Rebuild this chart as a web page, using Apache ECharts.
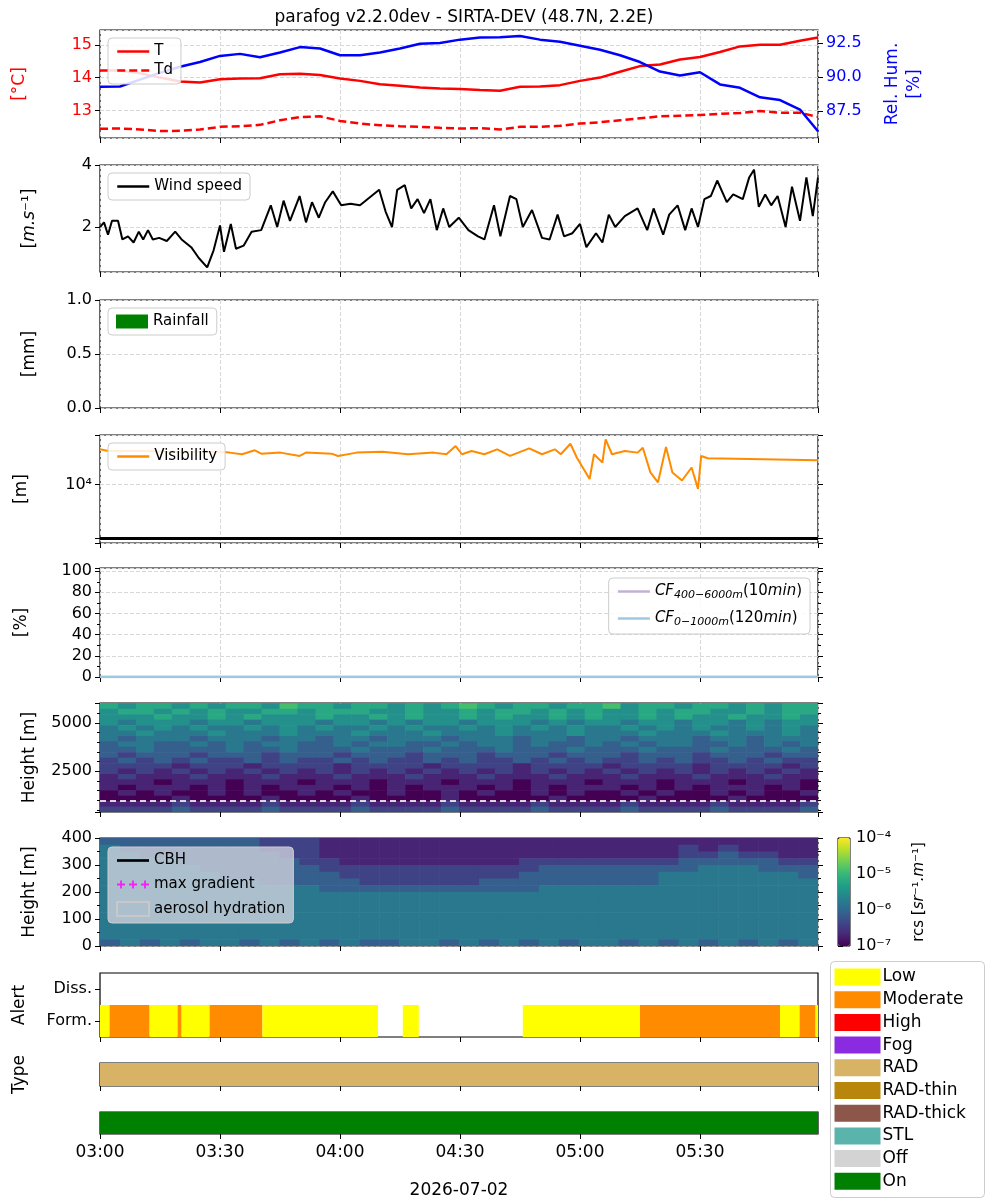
<!DOCTYPE html>
<html>
<head>
<meta charset="utf-8">
<script src="https://cdn.jsdelivr.net/npm/echarts@6/dist/echarts.min.js"></script>
<style>
  html, body { margin: 0; padding: 0; background: #fff; }
  #chart { width: 1000px; height: 1200px; }
</style>
</head>
<body>
<div id="chart"></div>
<script>
// ---- data (minutes after 03:00) ----
var tMin = [0,5,10,15,20,25,30,35,40,45,50,55,60,65,70,75,80,85,90,95,100,105,110,115,120,125,130,135,140,145,150,155,160,165,170,175,179.5];
var temp = [14.22,14.22,14.13,14.0,13.88,13.85,13.95,13.97,13.98,14.1,14.12,14.08,13.97,13.9,13.8,13.75,13.7,13.67,13.65,13.62,13.6,13.72,13.73,13.77,13.9,14.0,14.18,14.35,14.4,14.55,14.63,14.78,14.95,15.0,15.0,15.12,15.22];
var dewp = [12.44,12.45,12.42,12.37,12.38,12.42,12.5,12.52,12.56,12.7,12.8,12.82,12.68,12.6,12.55,12.52,12.5,12.47,12.45,12.46,12.42,12.5,12.5,12.53,12.6,12.64,12.7,12.76,12.82,12.84,12.86,12.9,12.92,12.98,12.93,12.93,12.8];
var relHum = [89.28,89.3,89.8,90.3,90.75,91.1,91.55,91.7,91.45,91.8,92.2,92.1,91.6,91.6,91.8,92.1,92.45,92.5,92.75,92.9,92.92,93.02,92.75,92.6,92.3,92.0,91.6,91.1,90.4,90.1,90.35,89.45,89.2,88.5,88.3,87.6,86.0];

var windMin = [0,1,2,3,4.5,5.6,7,8.4,9.7,10.8,12,13.2,14.8,16.7,18.8,20.4,22.8,24.7,26.8,28.4,30,31,32.7,34,35.9,37.9,40.3,42.7,44.3,45.9,47.5,49.9,51.5,53,54.7,56.3,58.2,60.3,62.6,65,67.4,69.8,71.4,73,74.3,76.2,77.8,79.4,81,82.6,84.2,85.8,87.3,89.7,92.1,94.5,96.1,98.5,100.1,102.5,104.1,105.7,108,110.5,112.4,114.4,116,118.1,120,121.6,124,125.6,127.2,128.8,131.2,134.4,136.8,138.4,140.8,142.3,144.4,146.3,147.9,149.5,151.1,152.7,154.3,156.7,158.3,160.7,162.3,163.5,164.7,166.3,167.8,169.4,171.4,173,175,176.6,178.2,179.5];
var wind = [2.0,2.15,1.75,2.2,2.2,1.6,1.7,1.5,1.85,1.6,1.9,1.6,1.65,1.55,1.85,1.6,1.35,1.0,0.7,1.25,2.05,1.2,2.1,1.3,1.4,1.85,1.9,2.7,2.0,2.85,2.2,3.0,2.15,2.8,2.3,2.8,3.15,2.7,2.75,2.7,2.95,3.2,2.5,2.0,3.2,3.35,2.6,2.9,2.45,2.9,1.9,2.6,2.0,2.3,1.9,1.7,1.6,2.7,1.7,3.0,2.9,2.0,2.55,1.65,1.6,2.4,1.7,1.8,2.1,1.35,1.8,1.5,2.4,2.0,2.35,2.6,1.9,2.6,1.75,2.4,2.7,1.9,2.6,2.0,2.9,3.0,3.5,2.8,3.05,2.9,3.6,3.85,2.65,3.05,2.7,3.0,2.0,3.3,2.2,3.6,2.35,3.6];

var visMin = [0,2.1,6.9,11.6,16.4,22.8,29.2,32.4,35.5,38.7,40.3,45.1,49.9,51.5,57.9,59.5,64.2,70.6,77,83.4,86.6,88.9,90.5,92.9,96.1,99.3,102.5,107.3,110.5,113.7,115.2,117.6,119.2,122.4,123.5,125.6,126.4,128,131.2,134.4,135.7,137.6,139.5,141.5,143.1,145.5,147.9,149.5,150.3,151.9,179.5];
var vis = [45800,42600,42600,42600,41400,41400,41400,39700,37000,43900,38000,39700,34400,39700,38000,34400,39700,41400,37000,39700,37000,52800,37000,42600,37000,45800,34400,47800,37000,45800,37000,58200,32100,12700,37000,25900,70200,37000,42600,39700,49100,16900,11000,50500,16900,11900,20900,8300,34400,31200,28600];
var visThreshold = 1000;

var cfMin = [0, 30, 60, 90, 120, 150, 179.5];
var cfHigh = [0, 0, 0, 0, 0, 0, 0];
var cfLow = [0, 0, 0, 0, 0, 0, 0];

// backscatter grids: digit d -> log10(rcs) = -7 + 0.3*d; rows listed top to bottom
var rcsHighRows = [
  "6566565665766566565676566566756656656566",
  "5665656556656665565565665656556566556566",
  "5556556565556556565565655656556565565565",
  "5455545545554554545545554545545545545455",
  "4545454454545445454454545454454545445454",
  "4454445444544454445444544454445444544454",
  "4344434443443443444344434434434443443444",
  "3443343434433434433434434334343443343434",
  "3343333433433343334333433343334333433343",
  "3233323332333233323332333233323332333233",
  "2323232232322323223232232323223232232322",
  "2222122212222122221222212222122221222212",
  "2121212121212121212121212121212121212121",
  "1211121112111211121112111211121112111211",
  "1110111011101110111011101110111011101110",
  "1011101010111010101110101011101010111010",
  "0101001010010100100101001010010100101001",
  "0000100001000010000100000100001000010000",
  "1111211112111121111211112111121111211112",
  "2222322223222232222322223222232222322223"
];
var rcsLowRows = [
  "333333332221111111111111111111111111",
  "433333332221111111111111111112121111",
  "443333333221111111111111111112232211",
  "444433333322111111111222222223333322",
  "444443333332222222222233333333444333",
  "444444333333222222222333333344444443",
  "444444443333322222233333333344444444",
  "444444444443333333333344444444444444",
  "444444444444444444444444444444444444",
  "444444444444444444444444444444444444",
  "444444444444444444444444444444444444",
  "444444444444444444444444444444444444",
  "444444444444444444444444444444444444",
  "444444444444444444444444444444444444",
  "444444444444444444444444444444444444",
  "343434434343433443434343443434343434"
];

// alert periods: [start, end, level]
var alertLevels = ["Low", "Moderate", "High"];
var alertPeriods = [[0,2.4,0],[2.4,12.4,1],[12.4,19.4,0],[19.4,20.4,1],[20.4,27.4,0],[27.4,40.6,1],[40.6,69.5,0],[75.7,79.7,0],[105.7,135,0],[135,170,1],[170,174.9,0],[174.9,178.9,1],[178.9,179.5,0]];
var typePeriods = [[0,179.5,"RAD"]];
var statusPeriods = [[0,179.5,"On"]];

var legendNames = ["Low","Moderate","High","Fog","RAD","RAD-thin","RAD-thick","STL","Off","On"];
var legendColors = ["#ffff00","#ff8c00","#ff0000","#8a2be2","#d9b365","#b8860b","#8c564b","#5ab4ac","#d3d3d3","#008000"];

// ---- helpers ----
var font = "DejaVu Sans";
var viridis = ['#440154','#482878','#3e4989','#31688e','#26828e','#1f9e89','#35b779','#6ece58','#b5de2b','#fde725'];
function zip(x, y) { return x.map(function (v, i) { return [v, y[i]]; }); }
function fmtTime(m) {
  var h = 3 + Math.floor(m / 60), mm = Math.round(m % 60);
  return (h < 10 ? "0" : "") + h + ":" + (mm < 10 ? "0" : "") + mm;
}
function sup(v) {
  var map = {"-": "⁻", "0": "⁰", "1": "¹", "2": "²", "3": "³", "4": "⁴", "5": "⁵", "6": "⁶", "7": "⁷", "8": "⁸", "9": "⁹"};
  return String(v).split("").map(function (c) { return map[c] || c; }).join("");
}
function buildHeat(rows, hMin, hMax) {
  var out = [], n = rows.length, dh = (hMax - hMin) / n;
  rows.forEach(function (row, k) {
    var r = n - 1 - k, dx = 179.5 / row.length;
    for (var c = 0; c < row.length; c++) {
      out.push([c * dx, (c + 1) * dx, hMin + r * dh, hMin + (r + 1) * dh, -7 + 0.3 * Number(row[c])]);
    }
  });
  return out;
}
function heatItem(params, api) {
  var a = api.coord([api.value(0), api.value(3)]);
  var b = api.coord([api.value(1), api.value(2)]);
  return { type: "rect", shape: { x: a[0], y: a[1], width: b[0] - a[0] + 0.6, height: b[1] - a[1] + 0.6 },
    style: { fill: api.visual("color") } };
}
function bandItem(colorOf) {
  return function (params, api) {
    var a = api.coord([api.value(0), api.value(2)]);
    var b = api.coord([api.value(1), api.value(2)]);
    var h = api.size([0, 1])[1];
    return { type: "rect", shape: { x: a[0], y: a[1] - h / 2, width: b[0] - a[0], height: h },
      style: { fill: colorOf(api.value(3)) } };
  };
}
function colorByName(n) { return legendColors[legendNames.indexOf(n)]; }
function plain(v) { return String(v); }

var G = [[30,108],[165,107],[300,108],[435,108],[568,109],[703,109],[838,108],[973,64],[1063,23],[1112,22]];
var grids = G.map(function (g) {
  return { left: 100, width: 718, top: g[0], height: g[1], show: true, borderColor: "#000", borderWidth: 1.2, backgroundColor: "transparent" };
});
grids.push({ left: 838, width: 12, top: 838, height: 108, show: true, borderColor: "#000", borderWidth: 1 });

var labelStyle = { color: "#000", fontSize: 16, fontFamily: font };
var nameStyle = { color: "#000", fontSize: 17, fontFamily: font };
var grid = { lineStyle: { color: "#d8d8d8", type: "dashed" } };
var tick = { show: true, length: 5, lineStyle: { color: "#000" } };

var xAxes = G.map(function (g, i) {
  var last = i === G.length - 1;
  return {
    type: "value", gridIndex: i, min: 0, max: 179.5, interval: 30,
    axisLine: { show: false }, axisTick: tick,
    axisLabel: { show: last, showMaxLabel: false, formatter: fmtTime, margin: 10, color: "#000", fontSize: 17, fontFamily: font },
    splitLine: { show: i < 7, lineStyle: grid.lineStyle },
    name: last ? "2026-07-02" : "", nameLocation: "middle", nameGap: 48, nameTextStyle: nameStyle
  };
});
xAxes.push({ type: "value", gridIndex: 10, show: false, min: 0, max: 1 });

function yAx(o) {
  var a = {
    type: "value", axisLine: { show: false }, axisTick: tick, axisLabel: Object.assign({}, labelStyle),
    splitLine: { show: true, lineStyle: grid.lineStyle }, nameLocation: "middle", nameRotate: 90,
    nameTextStyle: nameStyle
  };
  for (var k in o) {
    if (k === "axisLabel") a.axisLabel = Object.assign(a.axisLabel, o[k]); else a[k] = o[k];
  }
  return a;
}
function rightTwin(gi, base) {
  var a = JSON.parse(JSON.stringify(base));
  a.position = "right"; a.axisLabel = { show: false }; a.splitLine = { show: false }; a.name = "";
  a.gridIndex = gi;
  return a;
}

var yVis = yAx({ gridIndex: 3, type: "log", logBase: 10, min: 800, max: 85000, name: "[m]", nameGap: 70,
  axisLabel: { formatter: function (v) { return Math.abs(Math.log10(v) - 4) < 1e-6 ? "10⁴" : ""; } },
  splitLine: { show: true, lineStyle: grid.lineStyle } });
var yCf = yAx({ gridIndex: 4, min: 0, max: 103, interval: 20, name: "[%]", nameGap: 70,
  axisLabel: { showMaxLabel: false }, minorTick: { show: true, splitNumber: 2, length: 3, lineStyle: { color: "#000" } } });
var yHigh = yAx({ gridIndex: 5, min: 400, max: 6020, minInterval: 2500, maxInterval: 2500, name: "Height [m]", nameGap: 62,
  axisLabel: { showMinLabel: false, showMaxLabel: false, formatter: plain }, splitLine: { show: false },
  minorTick: { show: true, splitNumber: 5, length: 3, lineStyle: { color: "#000" } } });
var yLow = yAx({ gridIndex: 6, min: 0, max: 400, interval: 100, name: "Height [m]", nameGap: 62,
  splitLine: { show: true, lineStyle: { color: "rgba(255,255,255,0.25)", type: "dashed" } },
  minorTick: { show: true, splitNumber: 2, length: 3, lineStyle: { color: "#000" } } });

var yAxes = [
  yAx({ gridIndex: 0, min: 12.16, max: 15.45, minInterval: 1, maxInterval: 1, name: "[°C]", nameGap: 72,
    axisLabel: { color: "#ff0000", showMinLabel: false, showMaxLabel: false }, nameTextStyle: Object.assign({}, nameStyle, { color: "#ff0000" }) }),
  yAx({ gridIndex: 0, position: "right", min: 85.5, max: 93.46, minInterval: 2.5, maxInterval: 2.5, splitLine: { show: false },
    name: "Rel. Hum.\n[%]", nameGap: 64, nameRotate: 90,
    axisLabel: { color: "#0000ff", showMinLabel: false, showMaxLabel: false, formatter: function (v) { return v.toFixed(1); } },
    nameTextStyle: Object.assign({}, nameStyle, { color: "#0000ff", lineHeight: 22 }) }),
  yAx({ gridIndex: 1, min: 0.55, max: 4, minInterval: 2, maxInterval: 2, name: "[{i|m.s}⁻¹]", nameGap: 62,
    axisLabel: { showMinLabel: false },
    nameTextStyle: Object.assign({}, nameStyle, { rich: { i: { fontStyle: "italic", fontSize: 17, fontFamily: font } } }) }),
  yAx({ gridIndex: 2, min: 0, max: 1, interval: 0.5, name: "[mm]", nameGap: 62,
    axisLabel: { formatter: function (v) { return v.toFixed(1); } } }),
  yVis, rightTwin(3, yVis),
  yCf, rightTwin(4, yCf),
  yHigh, rightTwin(5, yHigh),
  yLow, rightTwin(6, yLow),
  yAx({ gridIndex: 7, type: "category", data: ["Form.", "Diss."], splitLine: { show: false }, name: "Alert", nameGap: 72,
    axisTick: { show: true, length: 5, alignWithLabel: true, lineStyle: { color: "#000" } } }),
  yAx({ gridIndex: 8, type: "category", data: ["RAD"], axisLabel: { show: false }, axisTick: { show: false },
    splitLine: { show: false }, name: "Type", nameGap: 72 }),
  yAx({ gridIndex: 9, type: "category", data: ["On"], axisLabel: { show: false }, axisTick: { show: false },
    splitLine: { show: false } }),
  yAx({ gridIndex: 10, position: "right", min: -7, max: -4, interval: 1, splitLine: { show: false },
    axisLabel: { formatter: function (v) { return "10" + sup(v); }, margin: 6 },
    name: "rcs [{i|sr}⁻¹{i|.m}⁻¹]", nameGap: 62, nameRotate: 90,
    nameTextStyle: Object.assign({}, nameStyle, { fontSize: 15, rich: { i: { fontStyle: "italic", fontSize: 15, fontFamily: font } } }) })
];

var legendBase = { orient: "vertical", backgroundColor: "rgba(255,255,255,0.85)", borderColor: "#ccc", borderWidth: 1,
  borderRadius: 4, padding: [6, 8], itemGap: 8, itemWidth: 32, itemHeight: 14,
  itemStyle: { opacity: 0 }, lineStyle: { width: 2.5 },
  textStyle: { color: "#000", fontSize: 15, fontFamily: font }, selectedMode: false };
function lg(o) { return Object.assign({}, legendBase, o); }

var plusIcon = "path://M0,4h6v1.4h-6z M2.3,1.7h1.4v6h-1.4z M9,4h6v1.4h-6z M11.3,1.7h1.4v6h-1.4z M18,4h6v1.4h-6z M20.3,1.7h1.4v6h-1.4z";

var option = {
  animation: false,
  backgroundColor: "#fff",
  title: { text: "parafog v2.2.0dev - SIRTA-DEV (48.7N, 2.2E)", left: 459, top: 4, textAlign: "center",
    textStyle: { color: "#000", fontSize: 17, fontWeight: "normal", fontFamily: font } },
  grid: grids, xAxis: xAxes, yAxis: yAxes,
  legend: [
    lg({ left: 108, top: 38, data: ["T", "Td"], itemGap: 4 }),
    lg({ left: 108, top: 173, data: ["Wind speed"] }),
    lg({ left: 108, top: 308, data: [{ name: "Rainfall", icon: "rect" }], itemStyle: {} }),
    lg({ left: 108, top: 443, data: ["Visibility"] }),
    lg({ right: 190, top: 578, data: ["cf1", "cf2"], itemGap: 10,
      formatter: function (n) { return n === "cf1" ? "{i|CF}{s|400−6000m}{n|(10}{i|min}{n|)}" : "{i|CF}{s|0−1000m}{n|(120}{i|min}{n|)}"; },
      textStyle: { color: "#000", fontSize: 15, fontFamily: font, rich: {
        i: { fontStyle: "italic", fontSize: 15, fontFamily: font },
        s: { fontStyle: "italic", fontSize: 11, fontFamily: font, padding: [8, 0, 0, 0] },
        n: { fontSize: 15, fontFamily: font } } } }),
    lg({ left: 108, top: 847, backgroundColor: "rgba(215,215,225,0.75)", itemStyle: {},
      data: [{ name: "CBH", icon: "path://M0,0h30v2.5h-30z" }, { name: "max gradient", icon: plusIcon },
      { name: "aerosol hydration", icon: "rect" }], itemGap: 9 })
  ],
  visualMap: {
    type: "continuous", min: -7, max: -4, dimension: 4, seriesIndex: [9, 10], left: 838, top: 838,
    itemWidth: 12, itemHeight: 108, padding: 0, text: ["", ""], showLabel: false, calculable: false, hoverLink: false,
    inRange: { color: viridis }
  },
  graphic: [],
  series: [
    { name: "T", type: "line", xAxisIndex: 0, yAxisIndex: 0, data: zip(tMin, temp), symbol: "none", lineStyle: { color: "#ff0000", width: 2.5 }, itemStyle: { color: "#ff0000" } },
    { name: "Td", type: "line", xAxisIndex: 0, yAxisIndex: 0, data: zip(tMin, dewp), symbol: "none", lineStyle: { color: "#ff0000", width: 2.5, type: [8, 4] }, itemStyle: { color: "#ff0000" } },
    { name: "RH", type: "line", xAxisIndex: 0, yAxisIndex: 1, data: zip(tMin, relHum), symbol: "none", lineStyle: { color: "#0000ff", width: 2.5 }, itemStyle: { color: "#0000ff" } },
    { name: "Wind speed", type: "line", xAxisIndex: 1, yAxisIndex: 2, data: zip(windMin, wind), symbol: "none", lineStyle: { color: "#000", width: 2 }, itemStyle: { color: "#000" } },
    { name: "Rainfall", type: "bar", xAxisIndex: 2, yAxisIndex: 3, data: [], itemStyle: { color: "#008000" } },
    { name: "Visibility", type: "line", xAxisIndex: 3, yAxisIndex: 4, data: zip(visMin, vis), symbol: "none",
      lineStyle: { color: "#ff8c00", width: 2 }, itemStyle: { color: "#ff8c00" },
      markLine: { silent: true, symbol: "none", label: { show: false }, lineStyle: { color: "#000", width: 3, type: "solid" }, data: [{ yAxis: visThreshold }] } },
    { name: "cf1", type: "line", xAxisIndex: 4, yAxisIndex: 6, data: zip(cfMin, cfHigh), symbol: "none", lineStyle: { color: "#c5b0d5", width: 2.5 }, itemStyle: { color: "#c5b0d5" } },
    { name: "cf2", type: "line", xAxisIndex: 4, yAxisIndex: 6, data: zip(cfMin, cfLow), symbol: "none", lineStyle: { color: "#9ecae1", width: 2.5 }, itemStyle: { color: "#9ecae1" } },
    { name: "pad", type: "line", xAxisIndex: 4, yAxisIndex: 6, data: [] },
    { name: "rcsHigh", type: "custom", xAxisIndex: 5, yAxisIndex: 8, clip: true, renderItem: heatItem,
      encode: { x: [0, 1], y: [2, 3] }, data: buildHeat(rcsHighRows, 400, 6000),
      markLine: { silent: true, symbol: "none", label: { show: false }, lineStyle: { color: "rgba(235,235,235,0.9)", width: 2, type: [6, 4] }, data: [{ yAxis: 1000 }] } },
    { name: "rcsLow", type: "custom", xAxisIndex: 6, yAxisIndex: 10, clip: true, renderItem: heatItem,
      encode: { x: [0, 1], y: [2, 3] }, data: buildHeat(rcsLowRows, 0, 400) },
    { name: "CBH", type: "line", xAxisIndex: 6, yAxisIndex: 10, data: [], symbol: "none", lineStyle: { color: "#000", width: 2.5 }, itemStyle: { color: "#000" } },
    { name: "max gradient", type: "scatter", xAxisIndex: 6, yAxisIndex: 10, data: [], itemStyle: { color: "#ff00ff" } },
    { name: "aerosol hydration", type: "bar", xAxisIndex: 6, yAxisIndex: 10, data: [], itemStyle: { color: "rgba(0,0,0,0)", borderColor: "#c8c8c8", borderWidth: 2 } },
    { name: "alert", type: "custom", xAxisIndex: 7, yAxisIndex: 12, renderItem: bandItem(function (l) { return colorByName(alertLevels[l]); }),
      encode: { x: [0, 1], y: 2 }, data: alertPeriods.map(function (p) { return [p[0], p[1], 0, p[2]]; }) },
    { name: "type", type: "custom", xAxisIndex: 8, yAxisIndex: 13, renderItem: bandItem(function (i) { return colorByName(typePeriods[i][2]); }),
      encode: { x: [0, 1], y: 2 }, data: typePeriods.map(function (p, i) { return [p[0], p[1], 0, i]; }) },
    { name: "status", type: "custom", xAxisIndex: 9, yAxisIndex: 14, renderItem: bandItem(function (i) { return colorByName(statusPeriods[i][2]); }),
      encode: { x: [0, 1], y: 2 }, data: statusPeriods.map(function (p, i) { return [p[0], p[1], 0, i]; }) }
  ]
};

// flag legend box
var box = { type: "group", left: 830, top: 961, children: [
  { type: "rect", shape: { x: 0, y: 0, width: 154, height: 236, r: 4 }, style: { fill: "#fff", stroke: "#ccc", lineWidth: 1 } }
] };
legendNames.forEach(function (n, i) {
  var y = 7 + i * 22.7;
  box.children.push({ type: "rect", shape: { x: 4, y: y, width: 46, height: 17 }, style: { fill: legendColors[i] } });
  box.children.push({ type: "text", x: 52, y: y + 8.5, style: { text: n, fill: "#000", font: "17px '" + font + "'", verticalAlign: "middle" } });
});
option.graphic.push(box);

var chart = echarts.init(document.getElementById("chart"));
chart.setOption(option);
</script>
</body>
</html>
